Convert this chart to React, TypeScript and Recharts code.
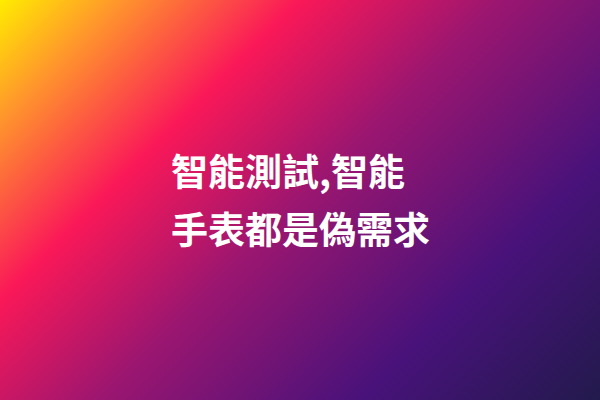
import { Surface, Text } from 'recharts';

// Title card: a diagonal sunset gradient with two lines of white text.
const WIDTH = 600;
const HEIGHT = 400;

const titleLines = ['智能測試,智能', '手表都是偽需求'];
const lineBaselines = [186, 244];

const gradientOffsets = [0, 0.12, 0.3, 0.5, 0.76, 1];
const gradientColors = ['#ffec00', '#ff962c', '#fa1858', '#9b1670', '#48127a', '#221a4c'];

const FONT = '"Noto Sans CJK TC", "Noto Sans CJK SC", sans-serif';

export default function App() {
  return (
    <div style={{ position: 'fixed', top: 0, left: 0, width: WIDTH, height: HEIGHT }}>
      <Surface width={WIDTH} height={HEIGHT}>
        <defs>
          <linearGradient id="bg" gradientUnits="userSpaceOnUse" x1={0} y1={0} x2={500} y2={500}>
            {gradientOffsets.map((o, i) => (
              <stop key={i} offset={o} stopColor={gradientColors[i]} />
            ))}
          </linearGradient>
        </defs>
        <rect x={0} y={0} width={WIDTH} height={HEIGHT} fill="url(#bg)" />
        {titleLines.map((line, i) => (
          <Text
            key={i}
            x={171}
            y={lineBaselines[i]}
            fill="#ffffff"
            fontSize={37}
            fontWeight={700}
            fontFamily={FONT}
            textAnchor="start"
            verticalAnchor="end"
          >
            {line}
          </Text>
        ))}
      </Surface>
    </div>
  );
}
